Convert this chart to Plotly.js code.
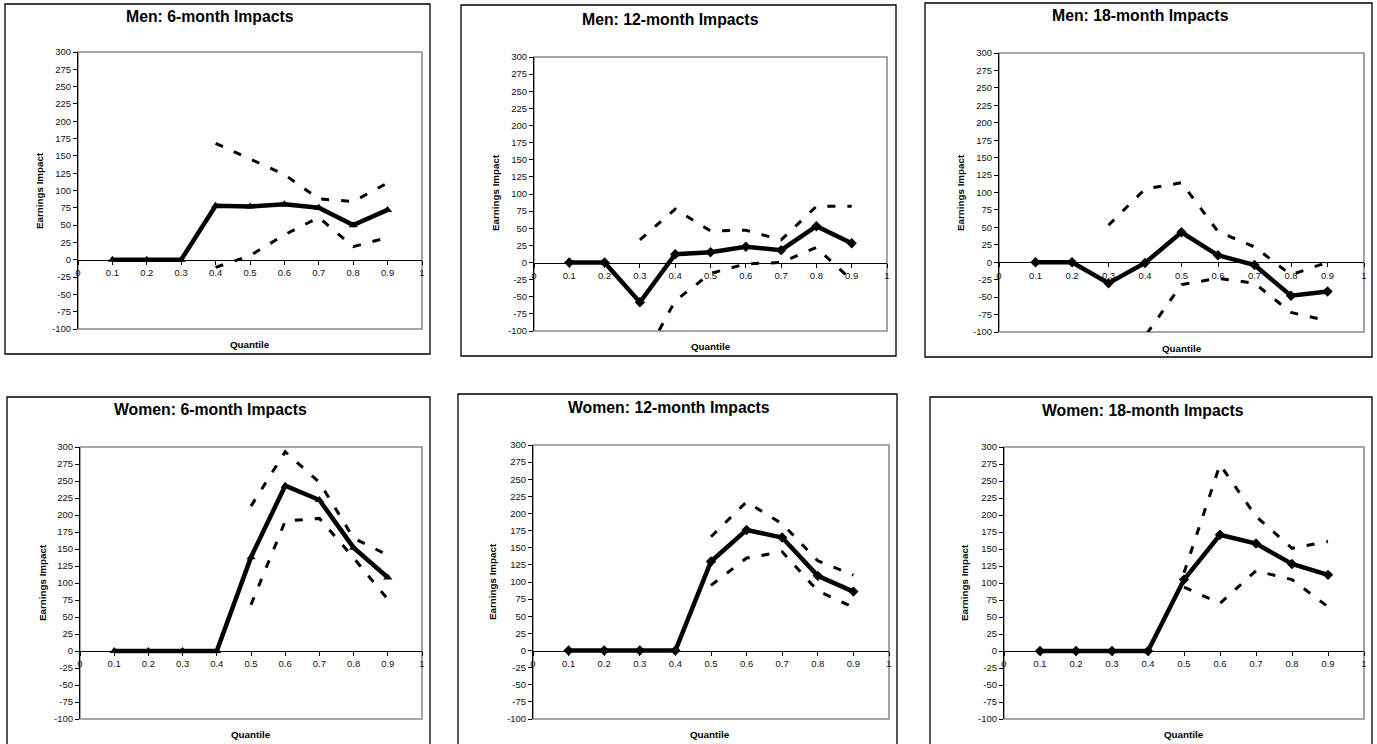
<!DOCTYPE html>
<html>
<head>
<meta charset="utf-8">
<script src="https://cdn.plot.ly/plotly-3.0.1.min.js"></script>
<style>
  html, body { margin: 0; padding: 0; background: #ffffff; }
  #chart { width: 1377px; height: 744px; }
</style>
</head>
<body>
<div id="chart"></div>
<script>
// ---------------- DATA ----------------
const quantiles = [0.1, 0.2, 0.3, 0.4, 0.5, 0.6, 0.7, 0.8, 0.9];

const panelTitles = [
  "Men: 6-month Impacts", "Men: 12-month Impacts", "Men: 18-month Impacts",
  "Women: 6-month Impacts", "Women: 12-month Impacts", "Women: 18-month Impacts"
];

const men6Impact  = [0, 0, 0, 78, 77, 80, 75, 50, 72];
const men6Upper   = [null, null, null, 168, 146, 123, 88, 84, 111];
const men6Lower   = [null, null, null, -11, 6, 36, 61, 19, 32];

const men12Impact = [0, 0, -58, 12, 15, 23, 18, 53, 28];
const men12Upper  = [null, null, 33, 78, 46, 47, 33, 82, 82];
const men12Lower  = [null, null, -150, -56, -16, -2, 0, 22, -26];

const men18Impact = [0, 0, -30, -1, 43, 10, -4, -48, -42];
const men18Upper  = [null, null, 53, 105, 114, 44, 22, -18, 0];
const men18Lower  = [null, null, -113, -106, -32, -23, -30, -72, -84];

const women6Impact  = [0, 0, 0, 0, 138, 243, 222, 152, 108];
const women6Upper   = [null, null, null, null, 213, 293, 248, 166, 141];
const women6Lower   = [null, null, null, null, 68, 191, 195, 137, 76];

const women12Impact = [0, 0, 0, 0, 130, 176, 165, 109, 86];
const women12Upper  = [null, null, null, null, 166, 217, 185, 131, 110];
const women12Lower  = [null, null, null, null, 95, 135, 144, 87, 63];

const women18Impact = [0, 0, 0, 0, 105, 171, 158, 128, 112];
const women18Upper  = [null, null, null, null, 115, 274, 198, 151, 161];
const women18Lower  = [null, null, null, null, 94, 70, 118, 105, 65];

const xTickVals = [0, 0.1, 0.2, 0.3, 0.4, 0.5, 0.6, 0.7, 0.8, 0.9, 1];
const xTickText = ["0", "0.1", "0.2", "0.3", "0.4", "0.5", "0.6", "0.7", "0.8", "0.9", "1"];
const yTickVals = [-100, -75, -50, -25, 0, 25, 50, 75, 100, 125, 150, 175, 200, 225, 250, 275, 300];
const yTickText = ["-100", "-75", "-50", "-25", "0", "25", "50", "75", "100", "125", "150", "175", "200", "225", "250", "275", "300"];

const xTitle = "Quantile";
const yTitle = "Earnings Impact";

// ---------------- LAYOUT GEOMETRY (pixels) ----------------
const W = 1377, H = 744;
const panels = [
  { impact: men6Impact,    upper: men6Upper,    lower: men6Lower,    marker: "triangle-up",
    plot: [78, 52, 422, 329],   box: [5, 4, 430, 354],     title: [210, 17],   ylab: [39, 191],  xlab: [250, 344] },
  { impact: men12Impact,   upper: men12Upper,   lower: men12Lower,   marker: "diamond",
    plot: [534, 57, 887, 331],  box: [461, 5, 896, 356],   title: [670, 20],   ylab: [495, 193], xlab: [711, 346] },
  { impact: men18Impact,   upper: men18Upper,   lower: men18Lower,   marker: "diamond",
    plot: [999, 53, 1364, 332], box: [925, 3, 1372, 357],  title: [1140, 16],  ylab: [960, 193], xlab: [1182, 348] },
  { impact: women6Impact,  upper: women6Upper,  lower: women6Lower,  marker: "triangle-up",
    plot: [80, 447, 422, 719],  box: [7, 397, 430, 760],   title: [210, 410],  ylab: [42, 583],  xlab: [251, 734] },
  { impact: women12Impact, upper: women12Upper, lower: women12Lower, marker: "diamond",
    plot: [533, 445, 889, 719], box: [458, 394, 897, 760], title: [669, 408],  ylab: [492, 582], xlab: [710, 734] },
  { impact: women18Impact, upper: women18Upper, lower: women18Lower, marker: "diamond",
    plot: [1004, 447, 1364, 719], box: [930, 397, 1372, 760], title: [1143, 411], ylab: [964, 583], xlab: [1184, 734] }
];

const px = v => v / W;
const py = v => 1 - v / H;

const FONT = "Liberation Sans, Arial, Helvetica, sans-serif";
const traces = [];
const shapes = [];
const annotations = [];
const layout = {
  width: W, height: H,
  margin: { l: 0, r: 0, t: 0, b: 0 },
  paper_bgcolor: "#ffffff",
  plot_bgcolor: "#ffffff",
  showlegend: false,
  font: { family: FONT, color: "#000000", size: 10 }
};

panels.forEach((p, i) => {
  const n = i + 1;
  const xa = n === 1 ? "x" : "x" + n;
  const ya = n === 1 ? "y" : "y" + n;
  const [l, t, r, b] = p.plot;
  const yMin = -100, yMax = 300;
  const zeroPx = t + (b - t) * (yMax - 0) / (yMax - yMin);

  layout[n === 1 ? "xaxis" : "xaxis" + n] = {
    domain: [px(l), px(r)],
    range: [0, 1],
    anchor: "free",
    position: py(zeroPx),
    tickvals: xTickVals, ticktext: xTickText,
    ticks: "outside", ticklen: 4, tickcolor: "#000", tickwidth: 1,
    showline: true, linecolor: "#000", linewidth: 1,
    showgrid: false, zeroline: false, fixedrange: true,
    tickfont: { family: FONT, size: 9.5, color: "#111" }
  };
  layout[n === 1 ? "yaxis" : "yaxis" + n] = {
    domain: [py(b), py(t)],
    range: [yMin, yMax],
    anchor: xa,
    tickvals: yTickVals, ticktext: yTickText,
    ticks: "outside", ticklen: 4, tickcolor: "#000", tickwidth: 1,
    showline: true, linecolor: "#000", linewidth: 1,
    showgrid: false, zeroline: false, fixedrange: true,
    tickfont: { family: FONT, size: 9.5, color: "#111" }
  };

  // plot-area border (grey)
  shapes.push({ type: "rect", xref: "paper", yref: "paper", layer: "below",
    x0: px(l), x1: px(r), y0: py(b), y1: py(t),
    line: { color: "#8c8c8c", width: 1.6 }, fillcolor: "rgba(0,0,0,0)" });
  // chart box border (black)
  const [bl, bt, br, bb] = p.box;
  shapes.push({ type: "rect", xref: "paper", yref: "paper", layer: "below",
    x0: px(bl), x1: px(br), y0: py(bb), y1: py(bt),
    line: { color: "#000000", width: 1.3 }, fillcolor: "rgba(0,0,0,0)" });

  // traces
  const dashStyle = { color: "#000000", width: 3, dash: "8px,12px" };
  traces.push({ x: quantiles, y: p.upper, xaxis: xa, yaxis: ya, type: "scatter",
    mode: "lines", line: dashStyle, connectgaps: false, hoverinfo: "skip" });
  traces.push({ x: quantiles, y: p.lower, xaxis: xa, yaxis: ya, type: "scatter",
    mode: "lines", line: dashStyle, connectgaps: false, hoverinfo: "skip" });
  traces.push({ x: quantiles, y: p.impact, xaxis: xa, yaxis: ya, type: "scatter",
    mode: "lines+markers", line: { color: "#000000", width: 4.5 },
    marker: { symbol: p.marker, size: 8, color: "#000000" }, cliponaxis: true });

  // titles
  annotations.push({ xref: "paper", yref: "paper", x: px(p.title[0]), y: py(p.title[1]),
    xanchor: "center", yanchor: "middle", showarrow: false,
    text: "<b>" + panelTitles[i] + "</b>", font: { family: FONT, size: 15.8, color: "#000" } });
  annotations.push({ xref: "paper", yref: "paper", x: px(p.ylab[0]), y: py(p.ylab[1]),
    xanchor: "center", yanchor: "middle", showarrow: false, textangle: -90,
    text: "<b>" + yTitle + "</b>", font: { family: FONT, size: 9.8, color: "#000" } });
  annotations.push({ xref: "paper", yref: "paper", x: px(p.xlab[0]), y: py(p.xlab[1]),
    xanchor: "center", yanchor: "middle", showarrow: false,
    text: "<b>" + xTitle + "</b>", font: { family: FONT, size: 9.8, color: "#000" } });
});

layout.shapes = shapes;
layout.annotations = annotations;

Plotly.newPlot("chart", traces, layout, { staticPlot: true, displayModeBar: false });
</script>
</body>
</html>
